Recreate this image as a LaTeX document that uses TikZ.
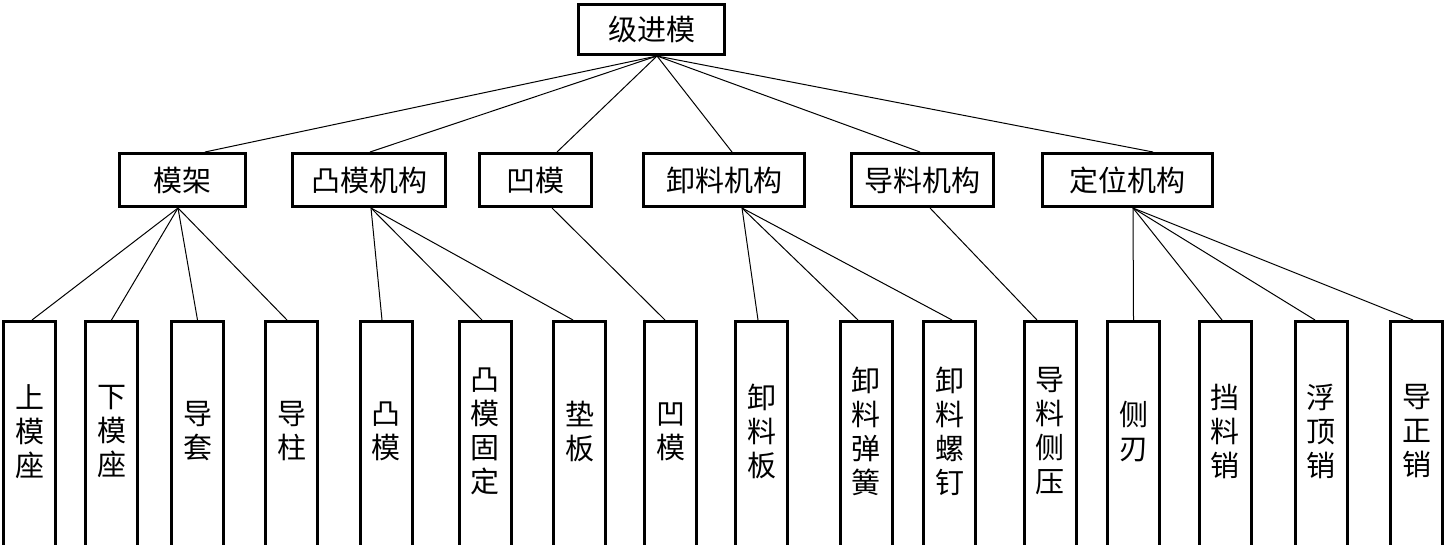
\documentclass[tikz,border=0pt]{standalone}
\usepackage{fontspec}
\newfontfamily\cjk{Noto Sans CJK SC}
\begin{document}
\begin{tikzpicture}[x=1pt,y=-1pt,
  box/.style={draw,line width=3pt,inner sep=0pt,font=\cjk\fontsize{29}{34}\selectfont},
  topbox/.style={box,minimum width=146pt,minimum height=50pt},
  midbox/.style={box,minimum height=53pt},
  leaf/.style={box,minimum width=52pt,minimum height=228.5pt,align=center},
  link/.style={line width=1pt}]
\clip (0,0) rectangle (1447,545);
\fill[white] (0,0) rectangle (1447,545);
\newcommand{\dn}{\rule[-11pt]{0pt}{11pt}}
% top
\node[topbox] (top) at (651.5,29.5) {级进模};
% middle
\node[midbox,minimum width=126pt] (mj) at (182.5,180) {模架};
\node[midbox,minimum width=153pt] (tm) at (369,180) {凸模机构};
\node[midbox,minimum width=112pt] (am) at (535.5,180) {凹模};
\node[midbox,minimum width=161pt] (xl) at (724,180) {卸料机构};
\node[midbox,minimum width=142pt] (dl) at (922.5,180) {导料机构};
\node[midbox,minimum width=170pt] (dw) at (1127.5,180) {定位机构};
% leaves
\node[leaf] (b1) at (29.5,435.75) {上\\模\\座\dn};
\node[leaf] (b2) at (111.5,435.75) {下\\模\\座\dn};
\node[leaf] (b3) at (197.5,435.75) {导\\套\dn};
\node[leaf] (b4) at (291.5,435.75) {导\\柱\dn};
\node[leaf] (b5) at (386,435.75) {凸\\模\dn};
\node[leaf] (b6) at (485,435.75) {凸\\模\\固\\定\dn};
\node[leaf] (b7) at (579.5,435.75) {垫\\板\dn};
\node[leaf] (b8) at (670.5,435.75) {凹\\模\dn};
\node[leaf] (b9) at (761.5,435.75) {卸\\料\\板\dn};
\node[leaf] (b10) at (866,435.75) {卸\\料\\弹\\簧\dn};
\node[leaf] (b11) at (949.5,435.75) {卸\\料\\螺\\钉\dn};
\node[leaf] (b12) at (1050,435.75) {导\\料\\侧\\压\dn};
\node[leaf] (b13) at (1133.5,435.75) {侧\\刃\dn};
\node[leaf] (b14) at (1225,435.75) {挡\\料\\销\dn};
\node[leaf] (b15) at (1321,435.75) {浮\\顶\\销\dn};
\node[leaf] (b16) at (1416.5,435.75) {导\\正\\销\dn};
% top to middle
\coordinate (hub) at ([xshift=5.5pt]top.south);
\draw[link] (hub) -- ([xshift=22.5pt]mj.north);
\draw[link] (hub) -- ([xshift=1pt]tm.north);
\draw[link] (hub) -- ([xshift=21.5pt]am.north);
\draw[link] (hub) -- ([xshift=8pt]xl.north);
\draw[link] (hub) -- ([xshift=-2.5pt]dl.north);
\draw[link] (hub) -- ([xshift=25.5pt]dw.north);
% middle to leaves
\draw[link] ([xshift=-4.5pt]mj.south) -- ([xshift=2.5pt]b1.north);
\draw[link] ([xshift=-4.5pt]mj.south) -- (b2.north);
\draw[link] ([xshift=-4.5pt]mj.south) -- (b3.north);
\draw[link] ([xshift=-4.5pt]mj.south) -- ([xshift=-4.5pt]b4.north);
\draw[link] ([xshift=2pt]tm.south) -- ([xshift=-4pt]b5.north);
\draw[link] ([xshift=2pt]tm.south) -- ([xshift=-3pt]b6.north);
\draw[link] ([xshift=2pt]tm.south) -- ([xshift=-6.5pt]b7.north);
\draw[link] ([xshift=16.5pt]am.south) -- ([xshift=-5.5pt]b8.north);
\draw[link] ([xshift=18pt]xl.south) -- ([xshift=-3.5pt]b9.north);
\draw[link] ([xshift=18pt]xl.south) -- ([xshift=-8pt]b10.north);
\draw[link] ([xshift=18pt]xl.south) -- ([xshift=2.5pt]b11.north);
\draw[link] ([xshift=7.5pt]dl.south) -- ([xshift=-13pt]b12.north);
\draw[link] ([xshift=5.5pt]dw.south) -- (b13.north);
\draw[link] ([xshift=5.5pt]dw.south) -- ([xshift=-3pt]b14.north);
\draw[link] ([xshift=5.5pt]dw.south) -- ([xshift=-6pt]b15.north);
\draw[link] ([xshift=5.5pt]dw.south) -- ([xshift=-3.5pt]b16.north);
\end{tikzpicture}
\end{document}
